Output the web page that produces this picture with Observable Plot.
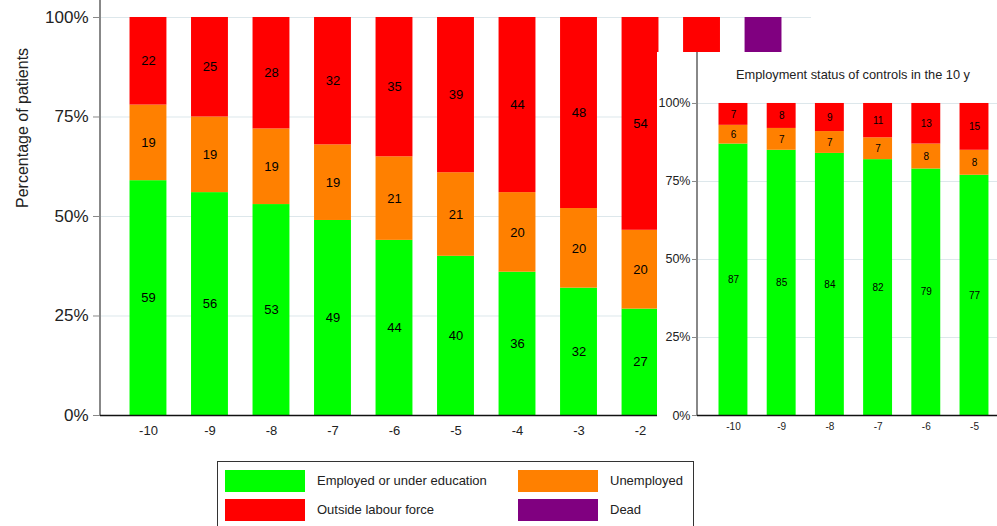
<!DOCTYPE html>
<html>
<head>
<meta charset="utf-8">
<script src="https://cdn.jsdelivr.net/npm/d3@7"></script>
<script src="https://cdn.jsdelivr.net/npm/@observablehq/plot@0.6"></script>
<style>
  html, body { margin: 0; padding: 0; background: #fff; }
  #root { position: relative; width: 997px; height: 526px; overflow: hidden; background: #fff; font-family: "Liberation Sans", Arial, sans-serif; }
  #main { position: absolute; left: 0; top: 0; }
  #inset { position: absolute; left: 657px; top: 52px; width: 340px; height: 393px; overflow: hidden; background: #fff; }
  #insetTitle { position: absolute; left: 79px; top: 15px; font-size: 12.8px; color: #222; white-space: nowrap; }
  #insetPlot { position: absolute; left: 0; top: 0; }
  #legend { position: absolute; left: 217px; top: 461px; width: 475px; height: 90px; border: 1.5px solid #333; background: #fff; }
  .sw { position: absolute; width: 80px; height: 22px; }
  .lt { position: absolute; font-size: 13px; color: #222; white-space: nowrap; line-height: 22px; }
  svg { max-width: none !important; }
</style>
</head>
<body>
<div id="root">
  <div id="main"></div>
  <div id="inset"><div id="insetPlot"></div><div id="insetTitle"></div></div>
  <div id="legend"></div>
</div>
<script>
// ---- data ----
const years = [-10, -9, -8, -7, -6, -5, -4, -3, -2, -1, 0];
const visibleYearTicks = [-10, -9, -8, -7, -6, -5, -4, -3, -2];
const statuses = ["Employed or under education", "Unemployed", "Outside labour force", "Dead"];
const statusColors = ["#00ff00", "#ff8000", "#ff0000", "#800080"];

// patients (main chart); -1 and 0 mostly hidden behind the inset (estimated)
const patientEmployed   = [59, 56, 53, 49, 44, 40, 36, 32, 27, 24, 20];
const patientUnemployed = [19, 19, 19, 19, 21, 21, 20, 20, 20, 19, 17];
const patientOutside    = [22, 25, 28, 32, 35, 39, 44, 48, 54, 57, 53];
const patientDead       = [0, 0, 0, 0, 0, 0, 0, 0, 0, 0, 10];

// controls (inset), visible years only
const controlYears      = [-10, -9, -8, -7, -6, -5];
const controlEmployed   = [87, 85, 84, 82, 79, 77];
const controlUnemployed = [6, 7, 7, 7, 8, 8];
const controlOutside    = [7, 8, 9, 11, 13, 15];

const yTicks = [0, 0.25, 0.5, 0.75, 1];
const insetTitle = "Employment status of controls in the 10 y";

// ---- build tables ----
function rows(yrs, series) {
  const out = [];
  yrs.forEach((yr, i) => {
    series.forEach((vals, s) => {
      if (vals[i] > 0) out.push({year: yr, status: statuses[s], value: vals[i]});
    });
  });
  return out;
}
const patientRows = rows(years, [patientEmployed, patientUnemployed, patientOutside, patientDead]);
const controlRows = rows(controlYears, [controlEmployed, controlUnemployed, controlOutside]);

const colorScale = {domain: statuses, range: statusColors};
const fmtPct = d => Math.round(d * 100) + "%";

// vertical axis line running from the top of the svg to the baseline
function leftAxisLine(top) {
  return (index, scales, values, dim) => {
    const g = d3.create("svg:g");
    g.append("line")
      .attr("x1", dim.marginLeft).attr("x2", dim.marginLeft)
      .attr("y1", top).attr("y2", dim.height - dim.marginBottom)
      .attr("stroke", "#888").attr("stroke-width", 2);
    return g.node();
  };
}

// ---- main chart ----
const main = Plot.plot({
  width: 997,
  height: 445,
  marginLeft: 100,
  marginRight: 186,
  marginTop: 0,
  marginBottom: 30,
  style: {fontFamily: "Liberation Sans, Arial, sans-serif", background: "transparent", color: "#222"},
  x: {type: "band", domain: years, paddingInner: 0.4, paddingOuter: 0.48, align: 0.5, round: false},
  y: {domain: [0, 1.0427]},
  color: colorScale,
  marks: [
    Plot.gridY(yTicks, {stroke: "#dde7eb", strokeOpacity: 1}),
    Plot.barY(patientRows, Plot.stackY({offset: "normalize", x: "year", y: "value", fill: "status", order: statuses})),
    Plot.text(patientRows, Plot.stackY({offset: "normalize", x: "year", y: "value", z: "status", order: statuses, text: "value", fill: "black", fontSize: 13, filter: d => d.status !== "Dead" && d.year < -1})),
    leftAxisLine(0),
    Plot.ruleY([0], {stroke: "#111", strokeWidth: 1.5}),
    Plot.axisY({ticks: yTicks, tickFormat: fmtPct, tickSize: 7, tickPadding: 5, fontSize: 17, stroke: "#888", label: null}),
    Plot.axisX({ticks: visibleYearTicks, tickSize: 0, tickPadding: 10, fontSize: 13, label: null}),
    Plot.text(["Percentage of patients"], {frameAnchor: "left", dx: -78, rotate: -90, fontSize: 16, fill: "#222"})
  ]
});
document.getElementById("main").appendChild(main);

// ---- inset chart ----
const inset = Plot.plot({
  width: 620,
  height: 390,
  marginLeft: 40,
  marginRight: 26,
  marginTop: 36,
  marginBottom: 27,
  style: {fontFamily: "Liberation Sans, Arial, sans-serif", background: "transparent", color: "#222", maxWidth: "none"},
  x: {type: "band", domain: years, paddingInner: 0.4, paddingOuter: 0.446, align: 0.5, round: false},
  y: {domain: [0, 1.048]},
  color: colorScale,
  marks: [
    Plot.gridY(yTicks, {stroke: "#dde7eb", strokeOpacity: 1}),
    Plot.barY(controlRows, Plot.stackY({offset: "normalize", x: "year", y: "value", fill: "status", order: statuses})),
    Plot.text(controlRows, Plot.stackY({offset: "normalize", x: "year", y: "value", z: "status", order: statuses, text: "value", fill: "black", fontSize: 10})),
    leftAxisLine(0),
    Plot.ruleY([0], {stroke: "#111", strokeWidth: 1.5}),
    Plot.axisY({ticks: yTicks, tickFormat: fmtPct, tickSize: 5, tickPadding: 2, fontSize: 12.5, stroke: "#888", label: null}),
    Plot.axisX({ticks: controlYears, tickSize: 0, tickPadding: 7, fontSize: 10, label: null})
  ]
});
document.getElementById("insetPlot").appendChild(inset);
document.getElementById("insetTitle").textContent = insetTitle;

// ---- legend ----
const legend = document.getElementById("legend");
const pos = [[7, 8], [300, 8], [7, 37], [300, 37]];
statuses.forEach((s, i) => {
  const sw = document.createElement("div");
  sw.className = "sw";
  sw.style.left = pos[i][0] + "px";
  sw.style.top = pos[i][1] + "px";
  sw.style.background = statusColors[i];
  legend.appendChild(sw);
  const t = document.createElement("div");
  t.className = "lt";
  t.style.left = (pos[i][0] + 92) + "px";
  t.style.top = pos[i][1] + "px";
  t.textContent = s;
  legend.appendChild(t);
});
</script>
</body>
</html>
